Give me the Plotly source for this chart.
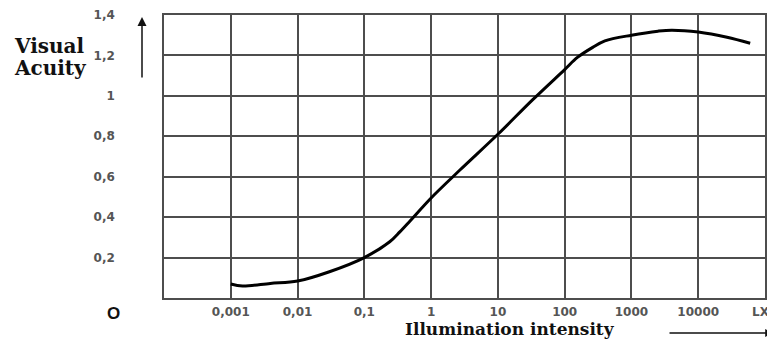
import plotly.graph_objects as go

# Data
lux = [0.001, 0.0015, 0.0039, 0.01, 0.03, 0.1, 0.24, 0.34, 0.48, 1, 2.7, 10, 33,
       100, 155, 263, 400, 1000, 2500, 4000, 10000, 27000, 60000]
acuity = [0.069, 0.059, 0.072, 0.084, 0.13, 0.2, 0.278, 0.327, 0.38, 0.495, 0.633, 0.81, 0.98,
          1.13, 1.19, 1.24, 1.272, 1.30, 1.32, 1.325, 1.316, 1.29, 1.26]

x_tickvals = [0.001, 0.01, 0.1, 1, 10, 100, 1000, 10000]
x_ticktext = ["0,001", "0,01", "0,1", "1", "10", "100", "1000", "10000"]
y_tickvals = [0.2, 0.4, 0.6, 0.8, 1.0, 1.2, 1.4]
y_ticktext = ["0,2", "0,4", "0,6", "0,8", "1", "1,2", "1,4"]

# page is offset by the 8px body margin; figure sized to fit the window
OFF = 8
W, H = 775 - OFF, 339 - OFF
PL, PR, PT, PB = 164, 765, 15, 298          # plot area in window pixels
L, T = PL - OFF, PT - OFF
R, B = W - (PR - OFF), H - (PB - OFF)
pw, ph = PR - PL, PB - PT


def px(x):
    return (x - PL) / pw


def py(y):
    return (PB - y) / ph


grid = "#4d4d4d"
tickfont = dict(family="DejaVu Sans, Liberation Sans, sans-serif", size=12,
                color="#555555", weight="bold")

fig = go.Figure()
fig.add_trace(go.Scatter(
    x=lux, y=acuity, mode="lines",
    line=dict(color="black", width=3, shape="spline", smoothing=0.95),
    hoverinfo="skip", showlegend=False,
))

fig.update_layout(
    width=W, height=H,
    margin=dict(l=L, r=R, t=T, b=B, autoexpand=False),
    paper_bgcolor="white", plot_bgcolor="white",
    xaxis=dict(
        type="log", range=[-4, 5],
        tickmode="array", tickvals=x_tickvals, ticktext=x_ticktext,
        showgrid=True, gridcolor=grid, gridwidth=1.5,
        showline=True, linecolor=grid, linewidth=1.5, mirror=True,
        ticks="", tickfont=tickfont, ticklabelstandoff=2,
        zeroline=False, automargin=False,
    ),
    yaxis=dict(
        range=[0, 1.4],
        tickmode="array", tickvals=y_tickvals, ticktext=y_ticktext,
        showgrid=True, gridcolor=grid, gridwidth=1.5,
        showline=True, linecolor=grid, linewidth=1.5, mirror=True,
        ticks="", tickfont=tickfont, ticklabelstandoff=45,
        zeroline=False, automargin=False,
    ),
)

serif_bold = dict(family="DejaVu Serif, Liberation Serif, serif", size=20,
                  color="#111111", weight="bold")
title_font = dict(family="DejaVu Serif, Liberation Serif, serif", size=17,
                  color="#111111", weight="bold")

annotations = [
    dict(text="Visual", x=px(12), y=py(46), xref="paper", yref="paper",
         xanchor="left", yanchor="middle", showarrow=False, font=serif_bold),
    dict(text="Acuity", x=px(12), y=py(68), xref="paper", yref="paper",
         xanchor="left", yanchor="middle", showarrow=False, font=serif_bold),
    dict(text="Illumination intensity", x=px(510), y=py(329), xref="paper", yref="paper",
         xanchor="center", yanchor="middle", showarrow=False, font=title_font),
    dict(text="O", x=px(113), y=py(313), xref="paper", yref="paper",
         xanchor="center", yanchor="middle", showarrow=False,
         font=dict(family="Liberation Sans, Arial, sans-serif", size=17,
                   color="#111111", weight="bold")),
    dict(text="LX", x=px(761), y=py(312), xref="paper", yref="paper",
         xanchor="center", yanchor="middle", showarrow=False, font=tickfont),
    dict(text="", x=px(773), y=py(333), xref="paper", yref="paper",
         showarrow=True, ax=-105, ay=0, arrowhead=2, arrowsize=1.2, arrowwidth=1.3,
         arrowcolor="#111111"),
    dict(text="", x=px(142), y=py(17), xref="paper", yref="paper",
         showarrow=True, ax=0, ay=62, arrowhead=2, arrowsize=1.2, arrowwidth=1.5,
         arrowcolor="#111111"),
]
fig.update_layout(annotations=annotations)

fig.write_html("out.html")
